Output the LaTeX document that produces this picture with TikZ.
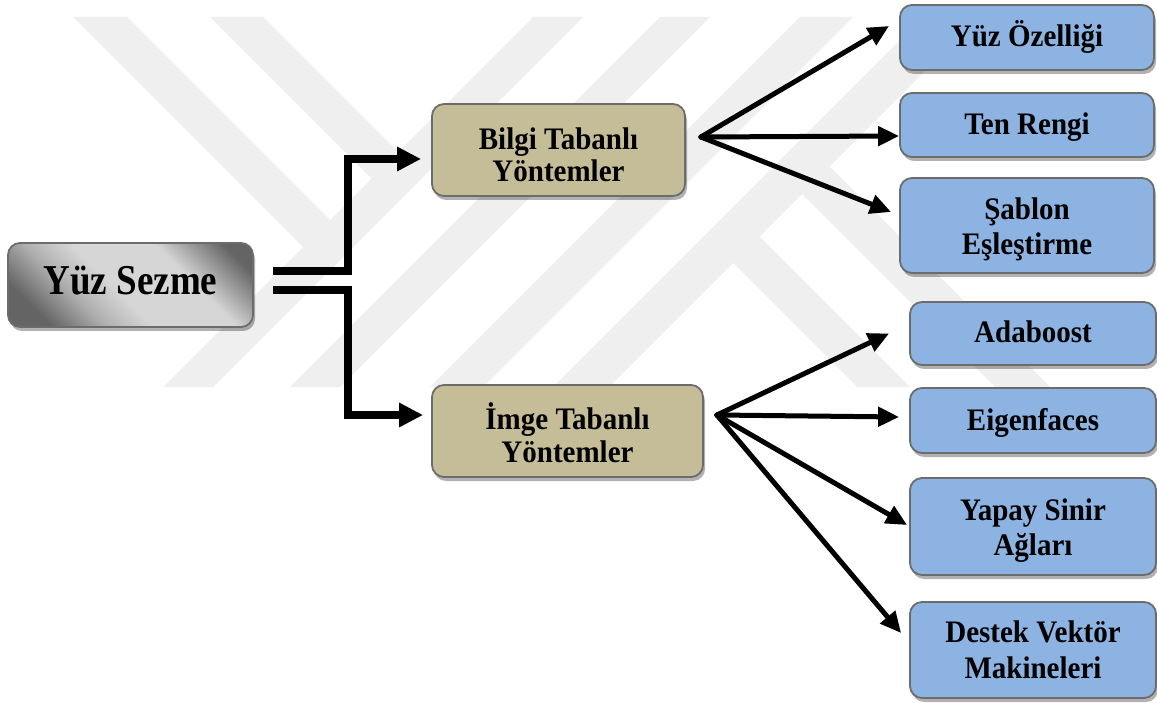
\documentclass[tikz,border=0pt]{standalone}
\usepackage{fontspec}
\usepackage{graphicx}
\setmainfont{Liberation Serif}
\usetikzlibrary{arrows.meta,shadows}
\definecolor{wm}{RGB}{239,239,239}
\definecolor{tanfill}{RGB}{196,189,151}
\definecolor{boxblue}{RGB}{141,179,226}
\definecolor{edgegray}{RGB}{108,108,108}
\definecolor{ysdark}{RGB}{100,100,100}
\definecolor{ysmid}{RGB}{176,176,176}
\definecolor{yslight}{RGB}{214,214,214}
\pgfdeclarehorizontalshading{yszshade}{100bp}{color(0bp)=(ysdark); color(24bp)=(ysdark); color(36bp)=(ysmid); color(46bp)=(yslight); color(64bp)=(yslight); color(79bp)=(ysdark); color(100bp)=(ysdark)}
% #1: extra height (twice the downward shift), #2: vertical scale, #3: text
\newcommand{\lbl}[3]{\raisebox{0pt}[\dimexpr\height+#1\relax][\depth]{\scalebox{1}[#2]{\begin{tabular}{@{}c@{}}#3\end{tabular}}}}
\begin{document}
\begin{tikzpicture}[x=1pt,y=-1pt,
  boxbase/.style={rectangle, rounded corners=12pt, draw=edgegray, line width=1.8pt,
    align=center, inner sep=0pt,
    font=\bfseries\fontsize{29}{30}\selectfont,
    drop shadow={shadow xshift=2pt, shadow yshift=-4pt, fill=black, opacity=0.3}},
  midbox/.style={boxbase, fill=tanfill},
  leafbox/.style={boxbase, fill=boxblue},
  rootbox/.style={boxbase, shading=yszshade, shading angle=45,
    font=\bfseries\fontsize{37}{40}\selectfont},
  trunk/.style={line width=7.5pt, -{Triangle[length=24pt,width=23pt]}},
  branch/.style={line width=5pt, line cap=round, -{Triangle[length=21pt,width=19pt]}}
]
\useasboundingbox (0,0) rectangle (1157,703);
\fill[white] (0,0) rectangle (1157,703);
% watermark
\fill[wm] (73,17) -- (127,17) -- (330,220) -- (303,247) -- cycle;
\fill[wm] (210,17) -- (263,17) -- (398,152) -- (371.5,178.5) -- cycle;
\fill[wm] (533,17) -- (583,17) -- (213,387) -- (163,387) -- cycle;
\fill[wm] (660,17) -- (710,17) -- (340,387) -- (290,387) -- cycle;
\fill[wm] (800,17) -- (853,17) -- (483,387) -- (430,387) -- cycle;
\fill[wm] (923,17) -- (979,17) -- (609,387) -- (553,387) -- cycle;
\fill[wm] (733,263) -- (759.5,236.5) -- (910,387) -- (857,387) -- cycle;
\fill[wm] (802,194) -- (829.5,166.5) -- (1050,387) -- (995,387) -- cycle;

% nodes
\node[rootbox, minimum width=245pt, minimum height=84pt] (ys) at (130.5,285) {\lbl{0pt}{1.15}{Yüz Sezme}};
\node[midbox, minimum width=253pt, minimum height=92pt] (bilgi) at (558.5,150) {\lbl{18pt}{1.08}{Bilgi Tabanlı\\Yöntemler}};
\node[midbox, minimum width=271pt, minimum height=92pt] (imge) at (567.5,431) {\lbl{13pt}{1.08}{İmge Tabanlı\\Yöntemler}};
\node[leafbox, minimum width=254pt, minimum height=65pt] (yoz) at (1027,37.5) {\lbl{2pt}{1.08}{Yüz Özelliği}};
\node[leafbox, minimum width=254pt, minimum height=64pt] (ten) at (1027,125) {\lbl{6pt}{1.08}{Ten Rengi}};
\node[leafbox, minimum width=254pt, minimum height=95pt] (sab) at (1027,225.5) {\lbl{10pt}{1.08}{Şablon\\[2.5pt]Eşleştirme}};
\node[leafbox, minimum width=246pt, minimum height=63pt] (ada) at (1033,333.5) {\lbl{6pt}{1.08}{Adaboost}};
\node[leafbox, minimum width=246pt, minimum height=65pt] (eig) at (1033,420.5) {\lbl{8pt}{1.08}{Eigenfaces}};
\node[leafbox, minimum width=246pt, minimum height=97pt] (yap) at (1033,526.5) {\lbl{10pt}{1.08}{Yapay Sinir\\[3pt]Ağları}};
\node[leafbox, minimum width=246pt, minimum height=96pt] (des) at (1033,650) {\lbl{8pt}{1.08}{Destek Vektör\\[2.5pt]Makineleri}};

% trunk connectors
\draw[trunk] ([xshift=19pt,yshift=14pt]ys.east) -- ++(75,0) |- ([xshift=-10pt,yshift=-9pt]bilgi.west);
\draw[trunk] ([xshift=19pt,yshift=-5pt]ys.east) -- ++(75,0) |- ([xshift=-8pt,yshift=16pt]imge.west);

% branches from Bilgi
\coordinate (bo) at ([xshift=15pt,yshift=13pt]bilgi.east);
\draw[branch] (bo) -- ([xshift=-10pt,yshift=11.5pt]yoz.west);
\draw[branch] (bo) -- ([yshift=-11pt]ten.west);
\draw[branch] (bo) -- ([xshift=-8pt,yshift=13.5pt]sab.west);

% branches from Imge
\coordinate (io) at ([xshift=13pt,yshift=16pt]imge.east);
\draw[branch] (io) -- ([xshift=-20pt]ada.west);
\draw[branch] (io) -- ([xshift=-10pt,yshift=3.5pt]eig.west);
\draw[branch] (io) -- ([xshift=-2pt,yshift=1.5pt]yap.west);
\draw[branch] (io) -- ([xshift=-8pt,yshift=17pt]des.west);
\end{tikzpicture}
\end{document}
